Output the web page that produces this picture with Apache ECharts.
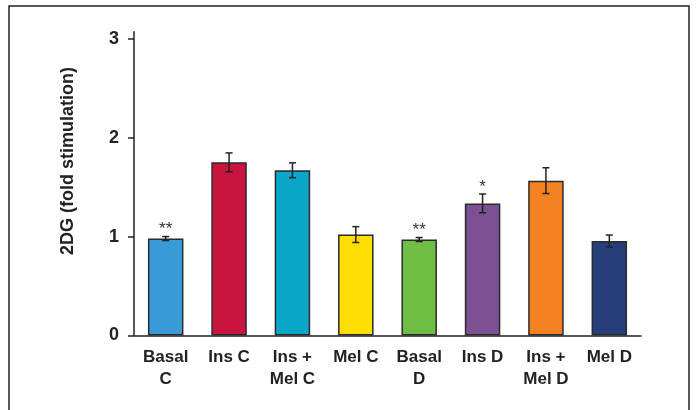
<!DOCTYPE html>
<html>
<head>
<meta charset="utf-8">
<script src="https://cdn.jsdelivr.net/npm/echarts@6/dist/echarts.min.js"></script>
<style>
  html, body { margin: 0; padding: 0; background: #fff; }
  #chart { width: 697px; height: 410px; }
</style>
</head>
<body>
<div id="chart"></div>
<script>
// Glucose uptake (2DG) per treatment group, mean ± error
const categories = ['Basal\nC', 'Ins C', 'Ins +\nMel C', 'Mel C', 'Basal\nD', 'Ins D', 'Ins +\nMel D', 'Mel D'];
const means = [0.98, 1.75, 1.67, 1.02, 0.97, 1.335, 1.565, 0.955];
const errors = [0.02, 0.095, 0.075, 0.08, 0.02, 0.095, 0.13, 0.06];
const significance = ['**', '', '', '', '**', '*', '', ''];
const barColors = ['#3a9ad8', '#c8143f', '#0aa6c8', '#fedd00', '#6fbe44', '#7c5093', '#f58220', '#263f7a'];
const yTicks = [0, 1, 2, 3];

const FONT = '"Liberation Sans", Arial, Helvetica, sans-serif';
const INK = '#222';

const chart = echarts.init(document.getElementById('chart'));

chart.setOption({
  animation: false,
  backgroundColor: '#fff',
  grid: { left: 134, right: 56, top: 31.7, bottom: 74.5 },
  xAxis: {
    type: 'category',
    data: categories,
    boundaryGap: true,
    axisLine: { lineStyle: { color: INK, width: 1.5 } },
    axisTick: { alignWithLabel: false, length: 8, lineStyle: { color: INK, width: 1.5 } },
    axisLabel: {
      interval: 0,
      margin: 11,
      color: INK,
      fontFamily: FONT,
      fontWeight: 'bold',
      fontSize: 17,
      lineHeight: 22
    }
  },
  yAxis: {
    type: 'value',
    min: 0,
    max: 3.07,
    interval: 1,
    splitLine: { show: false },
    axisLine: { show: true, lineStyle: { color: INK, width: 1.5 } },
    axisTick: { show: true, length: 6, customValues: yTicks, lineStyle: { color: INK, width: 1.5 } },
    axisLabel: {
      customValues: yTicks,
      margin: 15,
      color: INK,
      fontFamily: FONT,
      fontWeight: 'bold',
      fontSize: 18
    }
  },
  graphic: [
    {
      type: 'rect',
      shape: { x: 9, y: 6, width: 680, height: 420 },
      style: { fill: 'none', stroke: INK, lineWidth: 1.5 },
      silent: true,
      z: -1
    },
    {
      type: 'text',
      x: 68,
      y: 161,
      rotation: Math.PI / 2,
      style: {
        text: '2DG (fold stimulation)',
        fill: INK,
        font: 'bold 18px ' + FONT,
        align: 'center',
        verticalAlign: 'middle'
      }
    }
  ],
  series: [
    {
      type: 'bar',
      data: means.map((v, i) => ({ value: v, itemStyle: { color: barColors[i] } })),
      barWidth: '56%',
      itemStyle: { borderColor: '#2a2a2a', borderWidth: 1.5 },
      z: 2
    },
    {
      type: 'custom',
      data: means.map((v, i) => [i, v, errors[i], significance[i]]),
      z: 3,
      renderItem: function (params, api) {
        const i = api.value(0);
        const m = api.value(1);
        const e = api.value(2);
        const top = api.coord([i, m + e]);
        const bot = api.coord([i, m - e]);
        const half = 3.5;
        const line = { stroke: INK, lineWidth: 1.5 };
        const children = [
          { type: 'line', shape: { x1: top[0], y1: top[1], x2: bot[0], y2: bot[1] }, style: line },
          { type: 'line', shape: { x1: top[0] - half, y1: top[1], x2: top[0] + half, y2: top[1] }, style: line },
          { type: 'line', shape: { x1: bot[0] - half, y1: bot[1], x2: bot[0] + half, y2: bot[1] }, style: line }
        ];
        const mark = significance[params.dataIndex];
        if (mark) {
          children.push({
            type: 'text',
            x: top[0],
            y: top[1] - 7,
            style: {
              text: mark,
              fill: '#333',
              font: '17px ' + FONT,
              align: 'center',
              verticalAlign: 'middle'
            }
          });
        }
        return { type: 'group', children: children };
      }
    }
  ]
});
</script>
</body>
</html>
